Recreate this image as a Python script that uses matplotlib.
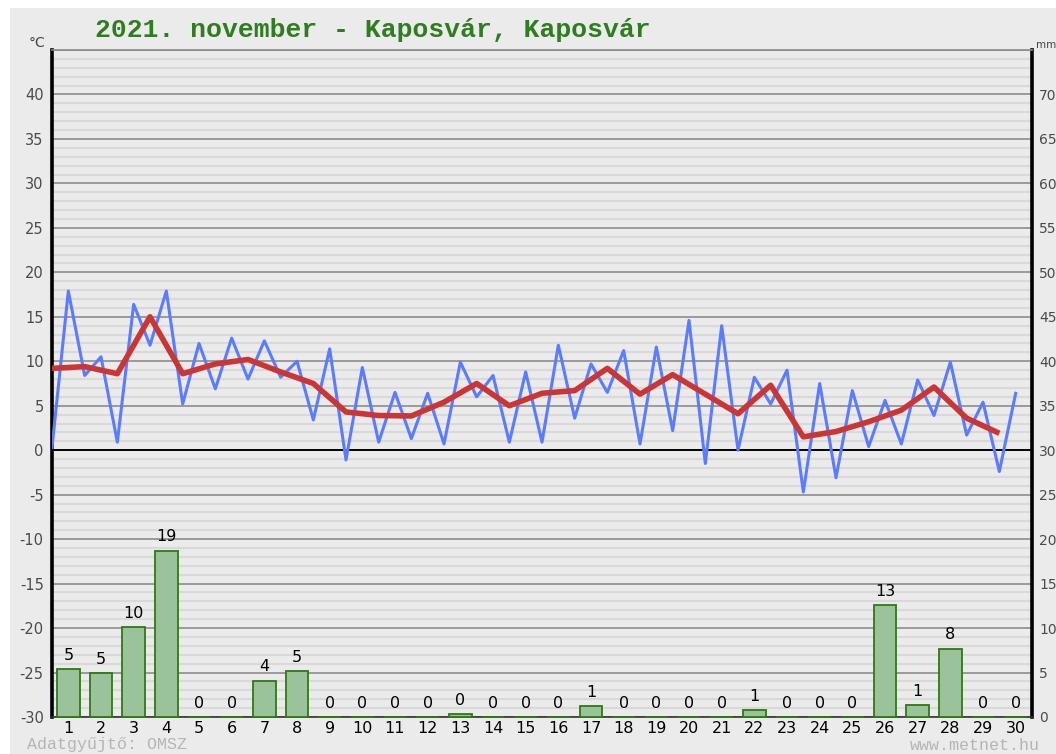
import numpy as np
import matplotlib
matplotlib.use("Agg")
import matplotlib.pyplot as plt
from matplotlib.patches import Rectangle

plt.rcParams['axes.unicode_minus'] = False

# napi adatok, 2021 november, Kaposvar
days = list(range(1, 31))

# homerseklet, fel-naponkent (min / max valtakozva)
temp_readings = [0.3, 17.9, 8.4, 10.5, 0.9, 16.4, 11.8, 17.9, 5.2, 12.0,
                 6.9, 12.6, 8.0, 12.3, 8.2, 10.0, 3.4, 11.4, -1.1, 9.3,
                 0.9, 6.5, 1.3, 6.4, 0.7, 9.9, 6.0, 8.4, 0.9, 8.8,
                 0.9, 11.8, 3.6, 9.7, 6.5, 11.2, 0.7, 11.6, 2.2, 14.6,
                 -1.5, 14.0, 0.0, 8.2, 5.2, 9.0, -4.7, 7.5, -3.1, 6.7,
                 0.4, 5.6, 0.7, 7.9, 3.9, 9.9, 1.7, 5.4, -2.4, 6.4]

# napi kozephomerseklet
temp_mean = [9.2, 9.4, 8.6, 15.0, 8.6, 9.7, 10.2, 8.8, 7.5, 4.3,
             3.9, 3.85, 5.4, 7.5, 5.0, 6.4, 6.7, 9.2, 6.3, 8.5,
             6.3, 4.1, 7.3, 1.5, 2.1, 3.2, 4.5, 7.1, 3.6, 1.9]

# csapadek (mm)
precip = [5.4, 4.9, 10.1, 18.7, 0, 0, 4.1, 5.2, 0, 0,
          0, 0, 0.3, 0, 0, 0, 1.2, 0, 0, 0,
          0, 0.8, 0, 0, 0, 12.6, 1.3, 7.7, 0, 0]
precip_labels = [5, 5, 10, 19, 0, 0, 4, 5, 0, 0,
                 0, 0, 0, 0, 0, 0, 1, 0, 0, 0,
                 0, 1, 0, 0, 0, 13, 1, 8, 0, 0]

title = "2021. november - Kaposvár, Kaposvár"

bg = '#ebebeb'
fig = plt.figure(figsize=(10.56, 7.54), dpi=100, facecolor='white')
fig.patches.append(Rectangle((10 / 1056, 0), 1, 1 - 8 / 754, transform=fig.transFigure,
                             facecolor=bg, edgecolor='none', zorder=-10))

ax = fig.add_axes([52 / 1056, 1 - 717 / 754, 980 / 1056, 667 / 754])
ax.set_facecolor(bg)
ax.set_xlim(0.5, 30.5)
ax.set_ylim(-30, 45)

# racsvonalak
for t in range(-30, 46):
    if t == 0:
        ax.axhline(t, color='black', lw=1.4, zorder=2)
    elif t % 5 == 0:
        ax.axhline(t, color='#9a9a9a', lw=1.4, zorder=1)
    else:
        ax.axhline(t, color='#d9d9d9', lw=1.6, zorder=1)

ax.set_yticks(range(-30, 41, 5))
ax.set_yticklabels([str(t) for t in range(-30, 41, 5)], fontsize=10.5, color='#4a4a4a')
ax.set_xticks(days)
ax.set_xticklabels([str(d) for d in days], fontsize=11.5, color='black')
ax.tick_params(length=0, pad=6)
ax.tick_params(axis='x', pad=3)

for s in ['left', 'right']:
    ax.spines[s].set_linewidth(2.6)
    ax.spines[s].set_color('black')
ax.spines['top'].set_color('#8a8a8a')
ax.spines['top'].set_linewidth(1.2)
ax.spines['bottom'].set_color('#333333')
ax.spines['bottom'].set_linewidth(1.2)

# csapadek oszlopok a jobb tengelyen
ax2 = ax.twinx()
ax2.set_ylim(0, 75)
ax2.set_yticks(range(0, 71, 5))
ax2.set_yticklabels([str(v) for v in range(0, 71, 5)], fontsize=10, color='#4a4a4a')
ax2.tick_params(length=0, pad=5)
for s in ax2.spines.values():
    s.set_visible(False)
bars = ax2.bar(days, precip, width=0.7, color='#9bc39b', edgecolor='#2f7a12', lw=1.3, zorder=3)
for b in bars:
    b.set_clip_on(False)
for d, p, lab in zip(days, precip, precip_labels):
    ax2.text(d, p + 0.7, str(lab), ha='center', va='bottom', fontsize=11.5, color='black')

# homerseklet vonalak
ax3 = ax.twinx()
ax3.set_ylim(-30, 45)
ax3.axis('off')
x_half = [0.5 + 0.5 * k for k in range(len(temp_readings))]
ax3.plot(x_half, temp_readings, color='#5b7cff', lw=2.2, zorder=4)
ax3.plot([d - 0.5 for d in days], temp_mean, color='#cc3535', lw=4.0, zorder=5,
         solid_capstyle='butt')

fig.text(95 / 1056, 1 - 30 / 754, title, fontsize=19, fontweight='bold',
         family='Liberation Mono', color='#2e7d1e', va='center', ha='left')
fig.text(45 / 1056, 1 - 43 / 754, '°C', fontsize=10, color='#444444', ha='right', va='center')
fig.text(1036 / 1056, 1 - 45 / 754, 'mm', fontsize=7.5, color='#444444', ha='left', va='center')
fig.text(27 / 1056, 1 - 745 / 754, 'Adatgyűjtő: OMSZ', fontsize=12, family='Liberation Mono',
         color='#b5b5b5', ha='left', va='center')
fig.text(1040 / 1056, 1 - 745 / 754, 'www.metnet.hu', fontsize=12, family='Liberation Mono',
         color='#b5b5b5', ha='right', va='center')

fig.savefig('out.png', dpi=100, facecolor='white')
